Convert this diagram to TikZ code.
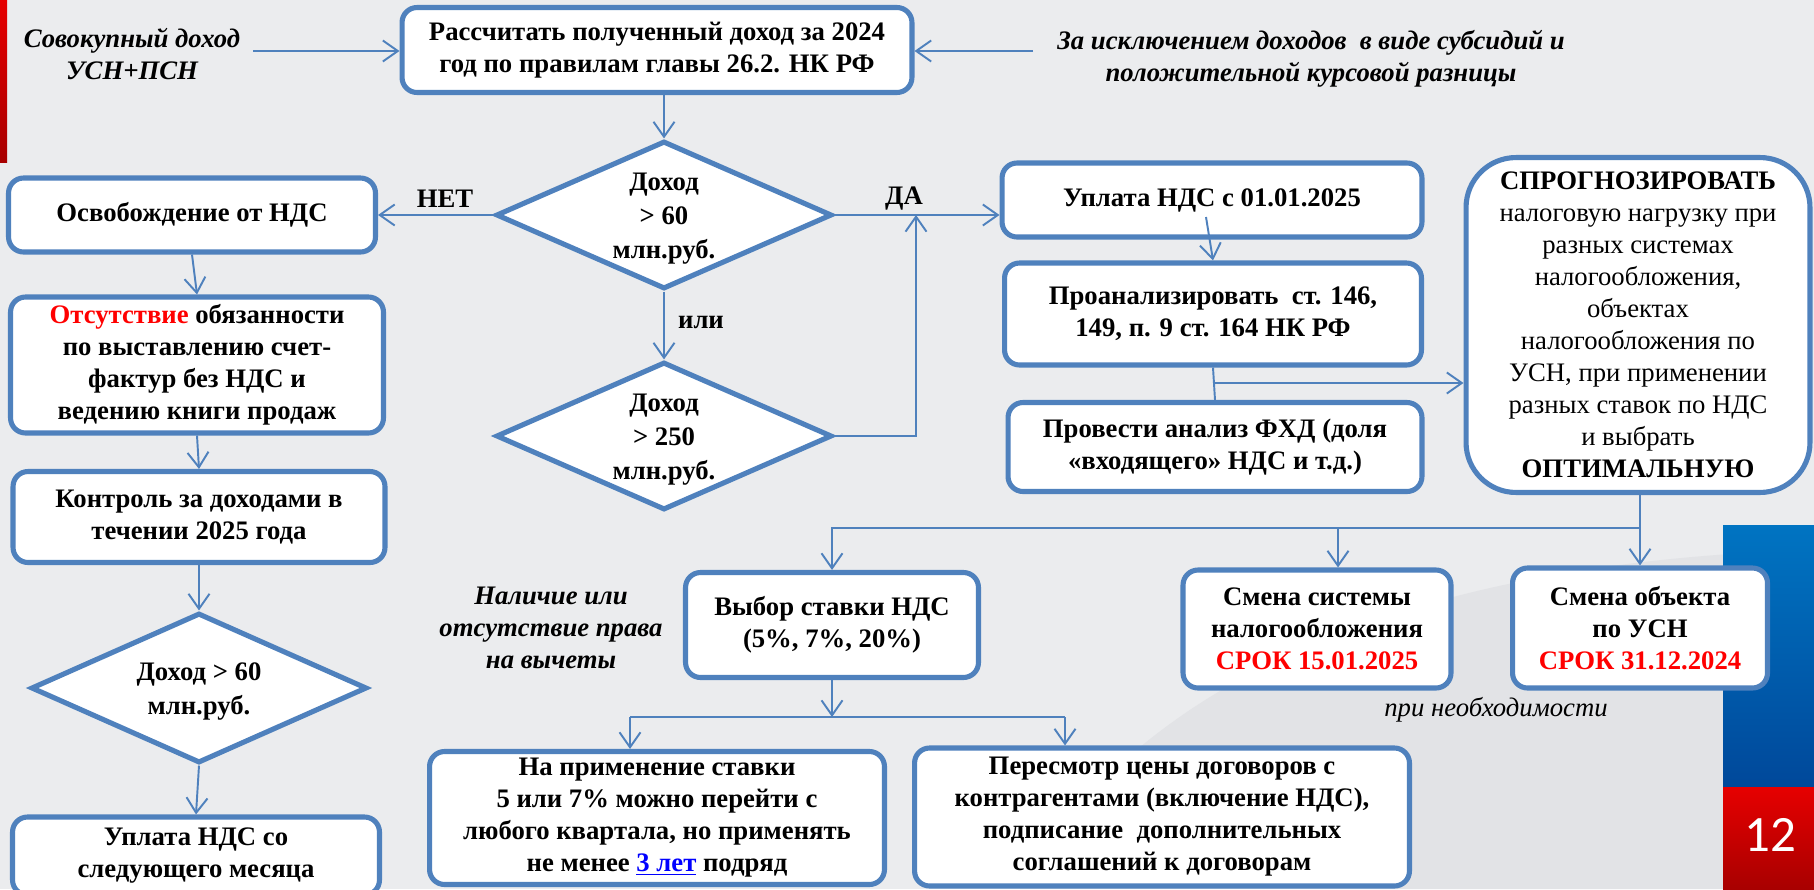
\documentclass[tikz,border=0pt]{standalone}
\usepackage{fontspec}
\setmainfont{Liberation Serif}
\newfontfamily\numfont{Carlito}
\usepackage{xcolor}
\usetikzlibrary{shapes.geometric,arrows.meta}

\definecolor{boxblue}{HTML}{4F81BD}
\definecolor{linkblue}{HTML}{0000FF}
\definecolor{bggray}{HTML}{EBECEE}
\definecolor{swoosh}{HTML}{E2E3E6}
\definecolor{slidered}{HTML}{E60000}
\definecolor{darkred}{HTML}{A80000}
\definecolor{slideblue}{HTML}{0074C2}
\definecolor{deepblue}{HTML}{00489A}

\newcommand{\bodyfont}{\fontsize{15.2}{18.2}\selectfont}

\tikzset{
  box/.style={draw=boxblue, line width=2.9pt, fill=white, rounded corners=0.3cm, align=center, inner sep=0pt},
  decide/.style={diamond, draw=boxblue, line width=2.9pt, fill=white, inner sep=0pt, minimum width=6.72cm},
  dtext/.style={align=center, yshift=-2pt, font=\fontsize{15.2}{19.2}\selectfont\bfseries},
  conn/.style={draw=boxblue, line width=1.1pt, -{Straight Barb[length=0.3cm,width=0.42cm]}},
  plain/.style={draw=boxblue, line width=1.1pt},
  note/.style={font=\bodyfont\bfseries\itshape, align=center},
}

\begin{document}
\begin{tikzpicture}[x=0.02cm, y=-0.02cm, font=\bodyfont\bfseries]
\useasboundingbox (0,0) rectangle (1814,889);
\fill[bggray] (0,0) rectangle (1814,889);
\fill[swoosh] (1020,889) .. controls (1150,660) and (1450,560) .. (1814,550) -- (1814,889) -- cycle;
\shade[top color=slidered, bottom color=darkred] (0,0) rectangle (7,162);
\shade[top color=slideblue, bottom color=deepblue] (1723,525) rectangle (1814,787);
\shade[top color=slidered, bottom color=darkred] (1723,787) rectangle (1814,889);
\node[white, font=\numfont\fontsize{29}{30}\selectfont] (num) at (1770,835) {12};
%
\node[box, minimum width=10.2cm, minimum height=1.7cm] (calc) at (657,50) {Рассчитать полученный доход за 2024\\год по правилам главы 26.2. НК РФ};
\node[note] (sovok) at (132,54) {Совокупный доход\\УСН+ПСН};
\node[note] (iskl) at (1311,59) {За исключением доходов\ \ в виде субсидий и\\положительной курсовой разницы};
%
\node[decide, minimum height=2.96cm, label={[dtext]center:Доход\\> 60\\млн.руб.}] (dohod) at (664,215) {};
\node[decide, minimum height=2.96cm, label={[dtext]center:Доход\\> 250\\млн.руб.}] (dohodc) at (664,436) {};
\node (net) at (445,199) {НЕТ};
\node (da) at (904,199) {ДА};
\node (ili) at (701,322) {или};
%
\node[box, minimum width=7.34cm, minimum height=1.48cm] (osv) at (192,215) {Освобождение от НДС};
\node[box, minimum width=7.46cm, minimum height=2.72cm] (otsut) at (197,365) {\textcolor{red}{Отсутствие} обязанности\\по выставлению счет-\\фактур без НДС и\\ведению книги продаж};
\node[box, minimum width=7.44cm, minimum height=1.82cm] (kontr) at (199,517) {Контроль за доходами в\\течении 2025 года};
\node[decide, minimum height=3cm, label={[dtext]center:Доход > 60\\млн.руб.}] (dohodb) at (199,688) {};
\node[box, minimum width=7.34cm, minimum height=1.56cm] (uplsled) at (196,856) {Уплата НДС со\\следующего месяца};
%
\node[box, minimum width=8.4cm, minimum height=1.48cm] (upl) at (1212,200) {Уплата НДС с 01.01.2025};
\node[box, minimum width=8.34cm, minimum height=2.04cm] (anal) at (1213,314) {Проанализировать\ \ ст. 146,\\149, п. 9 ст. 164 НК РФ};
\node[box, minimum width=8.28cm, minimum height=1.78cm] (fhd) at (1215,447) {Провести анализ ФХД (доля\\«входящего» НДС и т.д.)};
\node[box, rounded corners=1cm, minimum width=6.88cm, minimum height=6.7cm] (prog) at (1638,325) {СПРОГНОЗИРОВАТЬ\\\mdseries налоговую нагрузку при\\\mdseries разных системах\\\mdseries налогообложения,\\\mdseries объектах\\\mdseries налогообложения по\\\mdseries УСН, при применении\\\mdseries разных ставок по НДС\\\mdseries и выбрать\\ОПТИМАЛЬНУЮ};
%
\node[box, minimum width=5.86cm, minimum height=2.1cm] (vybor) at (832,625) {Выбор ставки НДС\\(5\%, 7\%, 20\%)};
\node[note] (nalich) at (551,628) {Наличие или\\отсутствие права\\на вычеты};
\node[box, minimum width=5.36cm, minimum height=2.36cm] (smsys) at (1317,629) {Смена системы\\налогообложения\\\textcolor{red}{СРОК 15.01.2025}};
\node[box, minimum width=5.1cm, minimum height=2.4cm] (smobj) at (1640,628) {Смена объекта\\по УСН\\\textcolor{red}{СРОК 31.12.2024}};
\node[font=\bodyfont\mdseries\itshape] (neobh) at (1496,710) {при необходимости};
\node[box, minimum width=9.1cm, minimum height=2.66cm] (primen) at (657,818) {На применение ставки\\5 или 7\% можно перейти с\\любого квартала, но применять\\не менее \textcolor{linkblue}{\underline{3 лет}} подряд};
\node[box, minimum width=9.9cm, minimum height=2.76cm] (peresm) at (1162,817) {Пересмотр цены договоров с\\контрагентами (включение НДС),\\подписание\ \ дополнительных\\соглашений к договорам};
%
\coordinate (sov) at (253,51);
\coordinate (isk) at (1033,51);
\coordinate (j0) at (1206,217);
\coordinate (j1) at (916,436);
\coordinate (j2) at (1213,383);
\coordinate (j3) at (1640,528);
\coordinate (j4) at (1338,528);
\coordinate (j5) at (832,717);
\coordinate (j5l) at (630,717);
\coordinate (j5r) at (1065,717);
%
\draw[conn] (sov) -- (sov -| calc.west);
\draw[conn] (isk) -- (isk -| calc.east);
\draw[conn] (dohod.north |- calc.south) -- (dohod.north);
\draw[conn] (dohod.west) -- (dohod.west -| osv.east);
\draw[conn] (dohod.east) -- (dohod.east -| upl.west);
\draw[conn] (dohod.south) -- (dohodc.north);
\draw[conn] (dohodc.east) -- (j1) -- (j1 |- dohod.east);
\draw[conn] (osv.south) -- (otsut.north);
\draw[conn] (otsut.south) -- (kontr.north);
\draw[conn] (kontr.south) -- (dohodb.north);
\draw[conn] (dohodb.south) -- (uplsled.north);
%
\draw[conn] (j0) -- (anal.north);
\draw[plain] (anal.south) -- (fhd.north);
\draw[conn] (j2) -- (j2 -| prog.west);
\draw[conn] (prog.south -| j3) -- (j3 |- smobj.north);
\draw[conn] (j3) -| (vybor.north);
\draw[conn] (j4) -- (j4 |- smsys.north);
\draw[conn] (vybor.south) -- (j5);
\draw[plain] (j5l) -- (j5r);
\draw[conn] (j5l) -- (j5l |- primen.north);
\draw[conn] (j5r) -- (j5r |- peresm.north);
\end{tikzpicture}
\end{document}
